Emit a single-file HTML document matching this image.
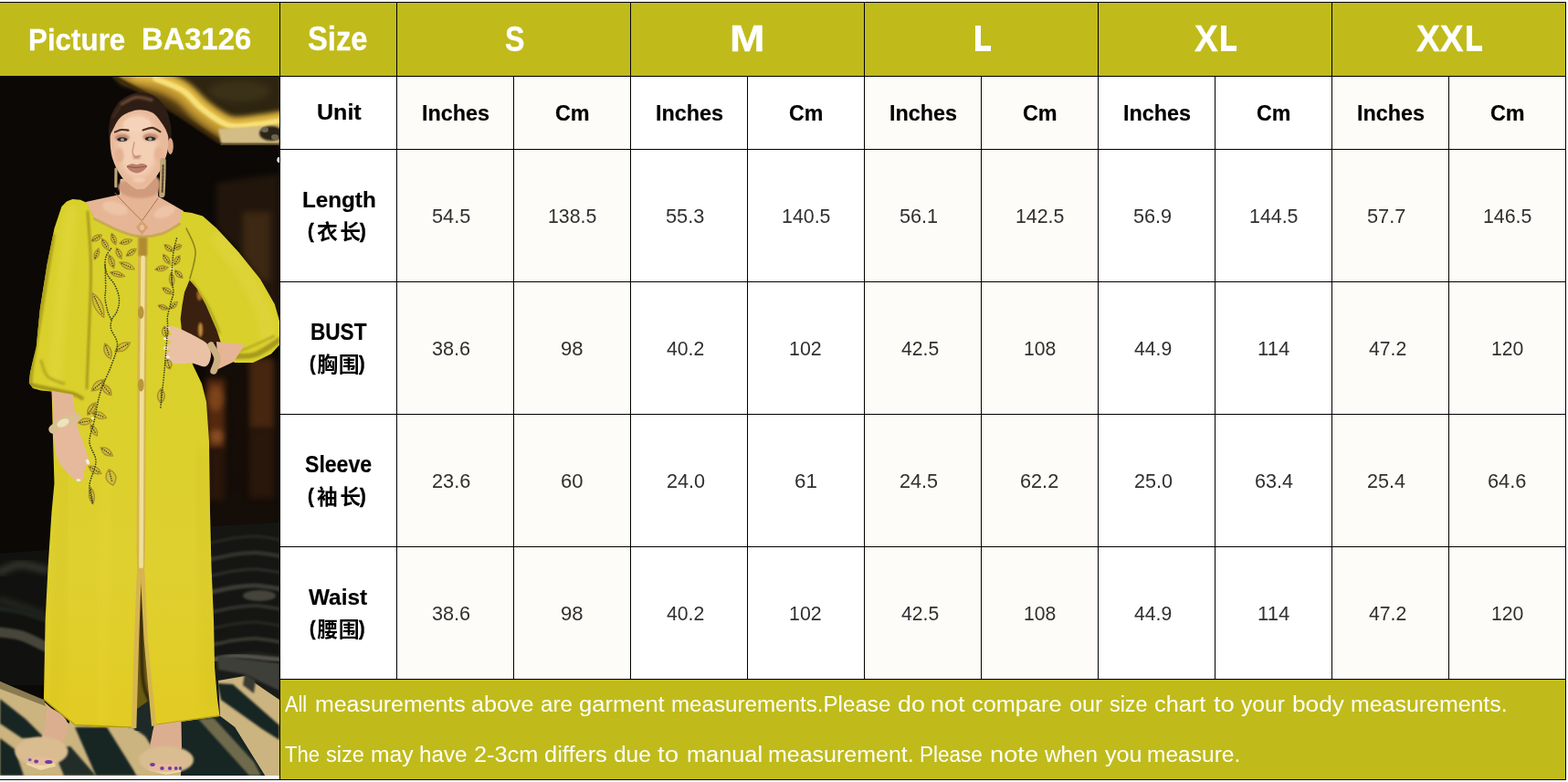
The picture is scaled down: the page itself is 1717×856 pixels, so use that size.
<!DOCTYPE html>
<html><head><meta charset="utf-8"><title>Size chart BA3126</title>
<style>
html,body{margin:0;padding:0;background:#fff}
body{width:1717px;height:856px;position:relative;overflow:hidden;font-family:"Liberation Sans",sans-serif}
.r{position:absolute}
.k{background:#000}
.t{position:absolute;white-space:pre;line-height:1;transform-origin:0 0;display:block}
svg{position:absolute;left:0;top:0}
</style></head><body>
<svg width="306" height="856" viewBox="0 0 306 856" style="position:absolute;left:0;top:0"><defs>
<filter id="b1" color-interpolation-filters="sRGB" x="-50%" y="-50%" width="200%" height="200%"><feGaussianBlur stdDeviation="1.2"/></filter>
<filter id="b2" color-interpolation-filters="sRGB" x="-50%" y="-50%" width="200%" height="200%"><feGaussianBlur stdDeviation="3"/></filter>
<filter id="b3" color-interpolation-filters="sRGB" x="-50%" y="-50%" width="200%" height="200%"><feGaussianBlur stdDeviation="7"/></filter>
<filter id="soft" color-interpolation-filters="sRGB" x="0" y="0" width="100%" height="100%"><feGaussianBlur stdDeviation="0.45"/></filter>
<linearGradient id="dg" gradientUnits="userSpaceOnUse" x1="0" y1="218" x2="0" y2="796"><stop offset="0" stop-color="#d8d02b"/><stop offset=".45" stop-color="#dbd02c"/><stop offset=".7" stop-color="#dfd030"/><stop offset="1" stop-color="#e2cb22"/></linearGradient>
<clipPath id="pc"><rect x="0" y="84" width="306" height="765"/></clipPath>
</defs><g clip-path="url(#pc)"><g filter="url(#soft)"><rect x="0" y="84" width="306" height="765" fill="#0b0806"/><path d="M150.0,84.0L306.0,84.0L306.0,130.0L254.0,134.0L240.0,128.0L219.0,113.0L198.0,93.0Z" fill="#2e2511" /><ellipse cx="262.0" cy="100.0" rx="34.0" ry="12.0" fill="#3b3118" filter="url(#b2)"/><path d="M125.0,84.0L156.0,84.0L198.0,92.0L219.0,112.0L240.0,126.0L254.0,132.0L306.0,126.0L306.0,157.0L240.0,155.0L198.0,127.0L156.0,101.0Z" fill="#4d3611" /><path d="M140.0,80.0C146.0,81.7 166.0,86.3 176.0,90.0C186.0,93.7 192.8,97.0 200.0,102.0C207.2,107.0 212.7,114.7 219.0,120.0C225.3,125.3 232.2,130.5 238.0,134.0C243.8,137.5 246.7,140.2 254.0,141.0C261.3,141.8 273.0,140.0 282.0,139.0C291.0,138.0 303.7,135.7 308.0,135.0" fill="none" stroke="#b88f2e" stroke-width="24" stroke-linecap="round" filter="url(#b2)"/><path d="M150.0,82.0C154.3,82.7 167.7,83.5 176.0,86.0C184.3,88.5 192.8,92.2 200.0,97.0C207.2,101.8 212.7,109.7 219.0,115.0C225.3,120.3 232.2,125.5 238.0,129.0C243.8,132.5 246.7,135.2 254.0,136.0C261.3,136.8 273.0,135.0 282.0,134.0C291.0,133.0 303.7,130.7 308.0,130.0" fill="none" stroke="#e3bd45" stroke-width="13" stroke-linecap="round" filter="url(#b2)"/><path d="M170.0,86.0C175.0,88.2 191.8,93.8 200.0,99.0C208.2,104.2 212.7,111.7 219.0,117.0C225.3,122.3 232.2,127.5 238.0,131.0C243.8,134.5 246.7,137.2 254.0,138.0C261.3,138.8 273.0,137.0 282.0,136.0C291.0,135.0 303.7,132.7 308.0,132.0" fill="none" stroke="#f7e07a" stroke-width="6" stroke-linecap="round" filter="url(#b1)"/><path d="M125.0,84.0L156.0,101.0L198.0,127.0L240.0,155.0" fill="none" stroke="#3d2a0d" stroke-width="4" stroke-linecap="round" filter="url(#b1)"/><path d="M239.0,141.0L306.0,137.0L306.0,157.0L242.0,157.0Z" fill="#d3bd84" filter="url(#b1)"/><path d="M242.0,158.0L306.0,158.0" fill="none" stroke="#6b5a30" stroke-width="1.5" stroke-linecap="round" /><ellipse cx="297.0" cy="146.0" rx="13.0" ry="8.0" fill="#2a2418" filter="url(#b1)"/><ellipse cx="290.0" cy="142.0" rx="4.0" ry="3.0" fill="#6d6550" /><ellipse cx="301.0" cy="150.0" rx="4.0" ry="3.0" fill="#6d6550" /><ellipse cx="305.5" cy="175.0" rx="2.2" ry="3.0" fill="#fff4dc" /><path d="M237.0,200.0L306.0,190.0L306.0,360.0L262.0,275.0L237.0,250.0Z" fill="#22160c" filter="url(#b2)"/><path d="M266.0,232.0L296.0,232.0L296.0,310.0L283.0,303.0L266.0,280.0Z" fill="#3d2813" filter="url(#b2)"/><path d="M205.0,300.0L216.0,314.0L226.0,333.0L238.0,361.0L241.0,374.0L227.0,378.0L214.0,370.0L199.0,362.0L196.0,349.0L198.0,333.0Z" fill="#3a200e" /><ellipse cx="218.5" cy="323.0" rx="3.0" ry="6.0" fill="#a86a2c" filter="url(#b1)"/><ellipse cx="219.5" cy="361.0" rx="2.5" ry="8.0" fill="#c08a3e" filter="url(#b1)"/><path d="M224.0,396.0L306.0,396.0L306.0,580.0L224.0,580.0Z" fill="#150d08" filter="url(#b2)"/><path d="M273.0,392.0L300.0,392.0L300.0,470.0L273.0,470.0Z" fill="#46260f" filter="url(#b2)"/><path d="M273.0,470.0L300.0,470.0L300.0,545.0L273.0,545.0Z" fill="#2a170b" filter="url(#b2)"/><path d="M226.0,415.0L246.0,415.0L246.0,492.0L226.0,492.0Z" fill="#54290f" filter="url(#b2)"/><path d="M228.0,492.0L246.0,492.0L246.0,548.0L228.0,548.0Z" fill="#2a160a" filter="url(#b2)"/><ellipse cx="236.0" cy="436.0" rx="8.0" ry="14.0" fill="#7d4519" filter="url(#b2)"/><ellipse cx="237.0" cy="478.0" rx="7.0" ry="8.0" fill="#8a4f24" filter="url(#b2)"/><ellipse cx="262.0" cy="470.0" rx="6.0" ry="60.0" fill="#170d07" filter="url(#b2)"/><path d="M232.0,576.0L306.0,572.0L306.0,730.0L232.0,730.0Z" fill="#151613" /><path d="M232.0,594.0C236.0,593.2 248.0,590.2 256.0,589.0C264.0,587.8 271.3,586.7 280.0,587.0C288.7,587.3 303.3,590.3 308.0,591.0" fill="none" stroke="#25261f" stroke-width="3.5" stroke-linecap="round" filter="url(#b1)"/><path d="M232.0,612.0C236.0,611.2 248.0,608.2 256.0,607.0C264.0,605.8 271.3,604.7 280.0,605.0C288.7,605.3 303.3,608.3 308.0,609.0" fill="none" stroke="#33332d" stroke-width="4.5" stroke-linecap="round" filter="url(#b1)"/><path d="M232.0,630.0C236.0,629.2 248.0,626.2 256.0,625.0C264.0,623.8 271.3,622.7 280.0,623.0C288.7,623.3 303.3,626.3 308.0,627.0" fill="none" stroke="#2a2b27" stroke-width="3.5" stroke-linecap="round" filter="url(#b1)"/><path d="M232.0,648.0C236.0,647.2 248.0,644.2 256.0,643.0C264.0,641.8 271.3,640.7 280.0,641.0C288.7,641.3 303.3,644.3 308.0,645.0" fill="none" stroke="#3c3b35" stroke-width="5" stroke-linecap="round" filter="url(#b1)"/><path d="M232.0,670.0C236.0,669.2 248.0,666.2 256.0,665.0C264.0,663.8 271.3,662.7 280.0,663.0C288.7,663.3 303.3,666.3 308.0,667.0" fill="none" stroke="#31312c" stroke-width="4" stroke-linecap="round" filter="url(#b1)"/><path d="M232.0,688.0C236.0,687.2 248.0,684.2 256.0,683.0C264.0,681.8 271.3,680.7 280.0,681.0C288.7,681.3 303.3,684.3 308.0,685.0" fill="none" stroke="#26261f" stroke-width="3.5" stroke-linecap="round" filter="url(#b1)"/><path d="M232.0,706.0C236.0,705.2 248.0,702.2 256.0,701.0C264.0,699.8 271.3,698.7 280.0,699.0C288.7,699.3 303.3,702.3 308.0,703.0" fill="none" stroke="#37372f" stroke-width="4" stroke-linecap="round" filter="url(#b1)"/><path d="M232.0,722.0C236.0,721.2 248.0,718.2 256.0,717.0C264.0,715.8 271.3,714.7 280.0,715.0C288.7,715.3 303.3,718.3 308.0,719.0" fill="none" stroke="#222420" stroke-width="3" stroke-linecap="round" filter="url(#b1)"/><ellipse cx="284.0" cy="652.0" rx="18.0" ry="6.0" fill="#45443c" filter="url(#b1)"/><path d="M0.0,606.0L52.0,602.0L50.0,750.0L0.0,750.0Z" fill="#11120f" /><path d="M0.0,626.0C3.7,624.7 13.7,618.3 22.0,618.0C30.3,617.7 45.3,623.0 50.0,624.0" fill="none" stroke="#35342d" stroke-width="8" stroke-linecap="round" filter="url(#b2)"/><path d="M0.0,657.0C4.0,658.2 15.7,661.2 24.0,664.0C32.3,666.8 45.7,672.3 50.0,674.0" fill="none" stroke="#272721" stroke-width="7" stroke-linecap="round" filter="url(#b2)"/><path d="M0.0,692.0C4.0,692.7 15.7,693.3 24.0,696.0C32.3,698.7 45.7,706.0 50.0,708.0" fill="none" stroke="#48463a" stroke-width="11" stroke-linecap="round" filter="url(#b1)"/><path d="M0.0,666.0C4.0,666.7 15.7,668.0 24.0,670.0C32.3,672.0 45.7,676.7 50.0,678.0" fill="none" stroke="#1d221d" stroke-width="6" stroke-linecap="round" filter="url(#b1)"/><path d="M0.0,746.0L48.0,768.0L80.0,796.0L98.0,817.0L112.0,849.0L0.0,849.0Z" fill="#cbb47f" /><path d="M0.0,746.0L48.0,766.0L50.0,773.0L0.0,754.0Z" fill="#8a7a50" /><path d="M0.0,765.0L28.0,787.0L49.0,808.0L24.0,808.0L0.0,792.0Z" fill="#172523" filter="url(#b1)"/><path d="M0.0,808.0L16.0,820.0L26.0,849.0L0.0,849.0Z" fill="#172523" filter="url(#b1)"/><path d="M78.0,770.0L200.0,770.0L200.0,849.0L70.0,849.0Z" fill="#cbb47f" /><path d="M140.0,765.0L172.0,765.0L172.0,800.0L140.0,800.0Z" fill="#1e2a28" /><path d="M82.0,796.0L117.0,796.0L150.0,849.0L105.0,849.0Z" fill="#172523" filter="url(#b1)"/><path d="M58.0,820.0L77.0,817.0L105.0,849.0L70.0,849.0Z" fill="#222c29" filter="url(#b1)"/><path d="M145.0,796.0L168.0,795.0L168.0,820.0L159.0,806.0Z" fill="#1e2a28" filter="url(#b1)"/><path d="M128.0,796.0L146.0,796.0L158.0,820.0L150.0,849.0L140.0,822.0Z" fill="#cbb47f" filter="url(#b1)"/><path d="M234.0,719.0L306.0,716.0L306.0,849.0L198.0,849.0L198.0,787.0L241.0,784.0Z" fill="#1a1c19" /><path d="M234.0,722.0C238.3,721.3 248.0,718.0 260.0,718.0C272.0,718.0 298.3,721.3 306.0,722.0" fill="none" stroke="#55534a" stroke-width="5" stroke-linecap="round" filter="url(#b1)"/><path d="M238.0,718.0L306.0,726.0L306.0,756.0L268.0,738.0L239.0,733.0Z" fill="#3e3f39" filter="url(#b1)"/><path d="M239.0,745.0L268.0,740.0L306.0,766.0L306.0,849.0L290.0,849.0L257.0,796.0L241.0,784.0Z" fill="#cbb47f" /><path d="M238.0,748.0L255.0,749.0L306.0,794.0L306.0,810.0L287.0,798.0L242.0,766.0Z" fill="#172523" filter="url(#b1)"/><path d="M200.0,787.0L241.0,784.0L257.0,796.0L290.0,849.0L200.0,849.0Z" fill="#172523" /><path d="M217.0,787.0L234.0,786.0L278.0,834.0L286.0,849.0L273.0,849.0Z" fill="#6f6a4c" filter="url(#b1)"/><path d="M268.0,737.0L280.0,745.0L278.0,759.0L266.0,750.0Z" fill="#3a3a32" filter="url(#b1)"/><path d="M119.0,146.0C118.8,142.7 119.3,137.8 120.0,134.0C120.7,130.2 120.8,127.2 123.0,123.0C125.2,118.8 128.3,112.6 133.0,109.0C137.7,105.4 145.2,101.9 151.0,101.2C156.8,100.5 163.1,101.9 168.0,104.6C172.9,107.3 177.6,112.3 180.7,117.2C183.8,122.1 185.1,128.9 186.3,134.0C187.5,139.1 187.8,143.3 187.8,148.0C187.8,152.7 187.5,162.3 186.5,162.0C185.5,161.7 183.4,150.4 182.0,146.0C180.6,141.6 180.5,139.4 177.9,135.7C175.3,132.0 171.4,126.5 166.7,124.0C162.0,121.5 155.5,120.3 149.9,121.0C144.3,121.7 137.2,124.7 133.0,128.0C128.8,131.3 126.5,136.7 124.5,141.0C122.5,145.3 121.9,153.2 121.0,154.0C120.1,154.8 119.2,149.3 119.0,146.0Z" fill="#2e1d14" /><path d="M133.0,114.0C135.7,112.8 143.5,107.2 149.0,106.5C154.5,105.8 163.2,109.0 166.0,109.5" fill="none" stroke="#6b4a34" stroke-width="3.4" stroke-linecap="round" filter="url(#b1)"/><path d="M124.0,128.0C125.2,126.2 129.8,118.8 131.0,117.0" fill="none" stroke="#4a3022" stroke-width="2.2" stroke-linecap="round" filter="url(#b1)"/><path d="M131.6,196.0L171.0,190.0L173.3,215.0L201.0,231.0L199.0,246.0L177.6,256.5L153.0,259.5L130.8,253.5L104.0,241.0L94.0,221.0L131.0,213.0Z" fill="#e6b595" /><path d="M132.5,200.0C138.7,197.0 164.3,192.2 171.0,194.0C177.7,195.8 175.3,207.2 172.5,211.0C169.7,214.8 160.4,216.8 154.0,217.0C147.6,217.2 137.6,214.8 134.0,212.0C130.4,209.2 126.3,203.0 132.5,200.0Z" fill="#cf9b7c" filter="url(#b1)"/><ellipse cx="126.0" cy="228.0" rx="14.0" ry="7.0" fill="#eec4a8" transform="rotate(15 126.0 228.0)" filter="url(#b1)"/><ellipse cx="180.0" cy="232.0" rx="12.0" ry="6.0" fill="#eec4a8" transform="rotate(-20 180.0 232.0)" filter="url(#b1)"/><ellipse cx="186.6" cy="160.0" rx="3.2" ry="9.0" fill="#dba587" /><path d="M120.6,152.0C120.7,146.6 121.8,145.4 123.9,141.3C126.0,137.2 128.7,131.0 133.0,127.5C137.3,124.0 144.3,121.1 149.9,120.4C155.5,119.7 162.0,120.7 166.7,123.2C171.4,125.8 175.1,131.8 177.9,135.7C180.7,139.6 182.4,143.7 183.5,146.9C184.6,150.1 184.4,151.5 184.3,155.0C184.2,158.5 184.4,162.6 182.8,168.0C181.2,173.4 178.6,181.5 175.0,187.6C171.4,193.7 164.5,201.2 161.0,204.4C157.5,207.6 156.3,206.8 154.0,207.0C151.7,207.2 150.5,208.1 147.0,205.8C143.5,203.5 137.0,198.6 133.0,193.2C129.0,187.8 125.3,180.4 123.2,173.5C121.1,166.6 120.5,157.4 120.6,152.0Z" fill="#e9ba9c" /><ellipse cx="151.0" cy="160.0" rx="22.0" ry="34.0" fill="#f3cfb4" filter="url(#b2)"/><ellipse cx="150.0" cy="136.0" rx="15.0" ry="8.0" fill="#f5d3ba" filter="url(#b1)"/><ellipse cx="133.8" cy="150.6" rx="8.0" ry="4.2" fill="#c08a70" filter="url(#b1)"/><ellipse cx="164.8" cy="150.0" rx="8.4" ry="4.2" fill="#c08a70" filter="url(#b1)"/><path d="M126.0,144.6C127.2,144.2 130.6,142.3 133.0,142.0C135.4,141.7 139.2,142.5 140.5,142.6" fill="none" stroke="#4a2f22" stroke-width="2.1" stroke-linecap="round" /><path d="M156.5,142.4C158.2,142.0 163.5,139.6 166.7,139.9C169.9,140.2 174.0,143.5 175.5,144.2" fill="none" stroke="#4a2f22" stroke-width="2.1" stroke-linecap="round" /><ellipse cx="133.8" cy="152.6" rx="5.6" ry="2.4" fill="#33231c" /><ellipse cx="134.0" cy="152.9" rx="2.1" ry="1.7" fill="#93a6ad" /><ellipse cx="164.6" cy="151.9" rx="5.8" ry="2.4" fill="#33231c" /><ellipse cx="164.4" cy="152.2" rx="2.1" ry="1.7" fill="#93a6ad" /><path d="M147.0,156.0C146.7,157.8 145.0,164.4 145.2,167.0C145.4,169.6 146.8,171.0 148.2,171.6C149.6,172.2 152.7,170.6 153.6,170.4" fill="none" stroke="#d09b7d" stroke-width="1.5" stroke-linecap="round" /><ellipse cx="149.6" cy="172.2" rx="4.2" ry="1.3" fill="#b98466" filter="url(#b1)"/><path d="M138.7,182.0C138.9,180.6 143.1,179.5 145.0,179.2C146.9,178.9 148.2,180.2 149.9,180.2C151.6,180.2 153.1,178.8 155.0,179.0C156.9,179.2 161.0,180.2 161.2,181.6C161.4,183.0 157.9,186.3 156.0,187.6C154.1,188.9 151.7,189.4 149.6,189.4C147.5,189.4 145.4,188.8 143.6,187.6C141.8,186.4 138.5,183.4 138.7,182.0Z" fill="#bb7f69" /><path d="M139.5,182.4C141.2,182.6 146.4,183.5 149.9,183.4C153.4,183.3 158.7,182.2 160.4,182.0" fill="none" stroke="#8f5544" stroke-width="1" stroke-linecap="round" /><ellipse cx="130.5" cy="170.0" rx="5.0" ry="8.0" fill="#e6b092" filter="url(#b1)"/><ellipse cx="174.0" cy="169.0" rx="5.0" ry="8.5" fill="#e8b496" filter="url(#b1)"/><ellipse cx="152.0" cy="197.0" rx="7.0" ry="3.0" fill="#f1cbb0" filter="url(#b1)"/><path d="M178.5,176.0C178.4,179.2 178.4,188.8 178.2,195.0C178.0,201.2 177.5,210.0 177.4,213.0" fill="none" stroke="#bfa679" stroke-width="6.4" stroke-linecap="round" /><path d="M178.6,181.0C178.5,183.8 178.4,193.0 178.2,198.0C178.0,203.0 177.7,208.8 177.6,211.0" fill="none" stroke="#54422a" stroke-width="2" stroke-linecap="round" stroke-dasharray="2.2 1.6"/><path d="M127.0,185.0L126.8,204.0" fill="none" stroke="#bfa679" stroke-width="3.2" stroke-linecap="round" /><path d="M126.0,211.3L140.0,226.5L155.3,241.7L164.7,228.8L173.0,217.0" fill="none" stroke="#a8754a" stroke-width="1" stroke-linecap="round" /><path d="M155.3,241.0L162.3,248.7L155.3,257.3L149.0,248.7Z" fill="#d8a070" /><ellipse cx="155.5" cy="249.0" rx="2.4" ry="3.0" fill="#e9c29c" /><path d="M67.5,226.0L73.0,220.5L79.4,218.0L88.0,218.8L95.3,222.0L98.5,229.0L103.5,239.5L130.8,252.7L153.0,258.8L177.6,255.7L196.7,245.2L199.0,231.6L210.0,233.0L222.0,236.5L237.3,250.0L261.0,275.8L285.0,305.6L300.8,333.0L306.5,353.0L306.5,377.0L296.9,387.5L277.0,397.0L257.0,397.0L250.0,392.0L243.0,379.0L237.3,361.0L225.4,333.4L215.5,315.5L207.6,306.5L202.0,320.0L199.6,333.4L197.6,349.0L199.0,362.0L205.0,380.0L211.4,400.0L221.0,420.0L226.0,440.0L229.0,484.0L230.0,560.0L231.5,620.0L234.0,679.0L235.0,730.0L238.0,765.0L240.6,784.0L205.0,789.0L168.7,794.3L163.5,740.0L158.0,660.0L154.0,627.5L151.5,660.0L148.5,740.0L145.3,796.6L110.0,796.0L81.8,794.0L56.0,773.0L47.9,766.0L48.6,730.0L49.6,679.0L52.6,620.0L56.6,560.0L59.5,529.0L58.0,480.0L56.6,428.6L45.0,427.5L36.0,425.0L31.8,419.0L33.0,408.0L36.0,395.0L39.7,380.0L43.7,339.0L51.6,289.0L59.5,250.0Z" fill="url(#dg)"/><clipPath id="dc"><path d="M67.5,226.0L73.0,220.5L79.4,218.0L88.0,218.8L95.3,222.0L98.5,229.0L103.5,239.5L130.8,252.7L153.0,258.8L177.6,255.7L196.7,245.2L199.0,231.6L210.0,233.0L222.0,236.5L237.3,250.0L261.0,275.8L285.0,305.6L300.8,333.0L306.5,353.0L306.5,377.0L296.9,387.5L277.0,397.0L257.0,397.0L250.0,392.0L243.0,379.0L237.3,361.0L225.4,333.4L215.5,315.5L207.6,306.5L202.0,320.0L199.6,333.4L197.6,349.0L199.0,362.0L205.0,380.0L211.4,400.0L221.0,420.0L226.0,440.0L229.0,484.0L230.0,560.0L231.5,620.0L234.0,679.0L235.0,730.0L238.0,765.0L240.6,784.0L205.0,789.0L168.7,794.3L163.5,740.0L158.0,660.0L154.0,627.5L151.5,660.0L148.5,740.0L145.3,796.6L110.0,796.0L81.8,794.0L56.0,773.0L47.9,766.0L48.6,730.0L49.6,679.0L52.6,620.0L56.6,560.0L59.5,529.0L58.0,480.0L56.6,428.6L45.0,427.5L36.0,425.0L31.8,419.0L33.0,408.0L36.0,395.0L39.7,380.0L43.7,339.0L51.6,289.0L59.5,250.0Z"/></clipPath><g clip-path="url(#dc)"><path d="M78.0,232.0C76.7,243.3 72.3,278.7 70.0,300.0C67.7,321.3 65.7,340.8 64.0,360.0C62.3,379.2 60.7,405.8 60.0,415.0" fill="none" stroke="#e0d63c" stroke-width="15" stroke-linecap="round" opacity=".7" filter="url(#b2)"/><path d="M58.0,258.0C55.7,272.5 47.8,321.3 44.0,345.0C40.2,368.7 36.8,387.5 35.0,400.0C33.2,412.5 33.3,416.7 33.0,420.0" fill="none" stroke="#b0a21d" stroke-width="5" stroke-linecap="round" filter="url(#b1)"/><path d="M96.0,232.0C96.6,241.7 99.2,270.3 99.5,290.0C99.8,309.7 98.8,327.5 98.0,350.0C97.2,372.5 95.5,412.5 95.0,425.0" fill="none" stroke="#a3951b" stroke-width="2.6" stroke-linecap="round" filter="url(#b1)"/><path d="M33.0,421.0C36.8,421.8 48.2,424.3 56.0,426.0C63.8,427.7 74.3,429.3 80.0,431.0C85.7,432.7 88.3,435.2 90.0,436.0" fill="none" stroke="#a3951b" stroke-width="4" stroke-linecap="round" filter="url(#b1)"/><path d="M45.0,395.0C46.2,397.8 47.8,407.8 52.0,412.0C56.2,416.2 67.0,418.7 70.0,420.0" fill="none" stroke="#b7aa20" stroke-width="3" stroke-linecap="round" filter="url(#b1)"/><path d="M240.0,262.0C244.7,268.3 260.0,287.0 268.0,300.0C276.0,313.0 283.7,328.3 288.0,340.0C292.3,351.7 293.0,365.0 294.0,370.0" fill="none" stroke="#dfd53f" stroke-width="17" stroke-linecap="round" opacity=".7" filter="url(#b2)"/><path d="M204.0,250.0C205.7,254.2 213.3,265.8 214.0,275.0C214.7,284.2 209.0,300.0 208.0,305.0" fill="none" stroke="#8f851a" stroke-width="1.6" stroke-linecap="round" /><path d="M255.0,390.0C259.2,389.7 271.5,391.0 280.0,388.0C288.5,385.0 301.7,374.7 306.0,372.0" fill="none" stroke="#a59a1e" stroke-width="6" stroke-linecap="round" filter="url(#b1)"/><path d="M247.0,378.0C249.5,379.0 253.2,385.7 262.0,384.0C270.8,382.3 293.7,370.7 300.0,368.0" fill="none" stroke="#b7ab22" stroke-width="2.5" stroke-linecap="round" filter="url(#b1)"/><path d="M210.0,308.0C213.0,312.7 223.0,326.7 228.0,336.0C233.0,345.3 238.0,359.3 240.0,364.0" fill="none" stroke="#b3a620" stroke-width="3" stroke-linecap="round" filter="url(#b1)"/><path d="M70.0,500.0C69.0,530.0 65.7,635.0 64.0,680.0C62.3,725.0 60.7,755.0 60.0,770.0" fill="none" stroke="#cfbd22" stroke-width="8" stroke-linecap="round" opacity=".45" filter="url(#b3)"/><path d="M220.0,500.0C221.0,530.0 224.0,634.2 226.0,680.0C228.0,725.8 231.0,759.2 232.0,775.0" fill="none" stroke="#cdbb22" stroke-width="7" stroke-linecap="round" opacity=".45" filter="url(#b3)"/><path d="M118.0,520.0C117.0,550.0 113.3,655.0 112.0,700.0C110.7,745.0 110.3,775.0 110.0,790.0" fill="none" stroke="#ead63a" stroke-width="14" stroke-linecap="round" opacity=".35" filter="url(#b3)"/><path d="M47.9,766.0L56.0,773.0L81.8,794.0L145.3,796.6" fill="none" stroke="#b09c16" stroke-width="2.4" stroke-linecap="round" /><path d="M168.7,794.3L240.6,784.0" fill="none" stroke="#b09c16" stroke-width="2.4" stroke-linecap="round" /></g><path d="M103.5,239.5C108.0,241.7 122.6,249.5 130.8,252.7C139.1,255.9 145.2,258.3 153.0,258.8C160.8,259.3 170.3,258.0 177.6,255.7C184.9,253.4 193.5,246.9 196.7,245.2" fill="none" stroke="#c8ab52" stroke-width="3" stroke-linecap="round" /><path d="M154.0,628.0L151.5,660.0L148.5,740.0L145.3,796.6L150.0,778.0L167.0,765.0L168.7,794.3L163.5,740.0L158.0,660.0Z" fill="#6b5a12" /><path d="M154.5,640.0C154.8,656.3 154.6,717.0 156.0,738.0C157.4,759.0 161.8,761.3 163.0,766.0" fill="none" stroke="#33270a" stroke-width="3.6" stroke-linecap="round" filter="url(#b1)"/><path d="M146.0,780.0L150.0,776.0L167.0,764.0L168.0,778.0Z" fill="#1f2a26" /><path d="M151.2,260.0L161.4,260.0L161.2,300.0L160.0,440.0L159.0,600.0L158.2,627.0L154.2,634.0L150.2,627.0L149.6,600.0L150.2,440.0L151.0,300.0Z" fill="#d6b550" /><path d="M151.6,260.0L161.2,260.0L161.0,280.0L151.5,280.0Z" fill="#b08a30" filter="url(#b1)"/><path d="M156.6,282.0L155.4,420.0L154.5,620.0" fill="none" stroke="#f0df98" stroke-width="4.6" stroke-linecap="round" /><path d="M149.8,627.0L154.8,627.0L152.2,700.0L149.4,797.0L143.8,797.0L147.0,700.0Z" fill="#d6b550" /><path d="M153.6,627.0L158.6,627.0L161.6,700.0L171.2,794.0L166.0,795.0L157.6,700.0Z" fill="#d6b550" /><ellipse cx="154.3" cy="342.0" rx="3.3" ry="7.0" fill="#b8973a" /><ellipse cx="154.3" cy="421.5" rx="3.3" ry="7.0" fill="#b8973a" /><path d="M237.0,374.0L268.0,377.0L256.0,396.0L239.0,404.0Z" fill="#e6b595" /><path d="M181.8,358.0C182.1,356.6 187.0,357.0 190.0,357.5C193.0,358.0 195.3,359.1 199.6,361.0C203.8,362.9 210.9,366.3 215.5,369.0C220.1,371.7 224.8,373.7 227.4,377.0C230.0,380.3 231.3,385.0 231.0,389.0C230.7,393.0 229.0,399.6 225.4,401.0C221.8,402.4 215.4,398.0 209.5,397.5C203.6,397.0 194.3,398.9 189.7,398.0C185.1,397.1 183.7,393.8 182.0,392.0C180.3,390.2 179.1,388.3 179.8,387.0C180.5,385.7 185.9,385.3 186.0,384.0C186.1,382.7 180.3,380.5 180.5,379.0C180.7,377.5 187.1,376.7 187.0,375.0C186.9,373.3 179.8,370.5 180.0,369.0C180.2,367.5 187.7,367.8 188.0,366.0C188.3,364.2 181.5,359.4 181.8,358.0Z" fill="#eac1a4" /><path d="M231.0,378.0C232.2,380.3 237.5,387.3 238.0,392.0C238.5,396.7 234.7,403.7 234.0,406.0" fill="none" stroke="#cdb083" stroke-width="7.5" stroke-linecap="round" /><ellipse cx="182.5" cy="359.5" rx="2.6" ry="1.7" fill="#f3ede0" /><ellipse cx="181.5" cy="370.5" rx="2.6" ry="1.7" fill="#f3ede0" /><ellipse cx="181.5" cy="381.0" rx="2.6" ry="1.7" fill="#f3ede0" /><ellipse cx="183.5" cy="391.0" rx="2.6" ry="1.7" fill="#f3ede0" /><path d="M56.6,428.0L80.0,432.0L82.0,450.0L83.4,458.0L59.5,466.0L58.0,445.0Z" fill="#e4b698" /><path d="M59.5,468.0C61.0,462.5 66.1,463.5 70.0,462.0C73.9,460.5 80.3,457.7 83.0,459.0C85.7,460.3 84.3,464.8 86.0,470.0C87.7,475.2 91.1,484.0 93.0,490.0C94.9,496.0 97.3,502.3 97.3,506.0C97.3,509.7 94.1,508.8 93.0,512.0C91.9,515.2 91.8,522.5 90.5,525.0C89.2,527.5 87.4,527.6 85.0,526.8C82.6,526.0 79.2,523.1 76.0,520.0C72.8,516.9 68.5,512.2 66.0,508.0C63.5,503.8 62.1,501.7 61.0,495.0C59.9,488.3 58.0,473.5 59.5,468.0Z" fill="#e6b99c" /><path d="M58.0,470.0C60.0,468.5 65.7,463.2 70.0,461.0C74.3,458.8 81.7,457.7 84.0,457.0" fill="none" stroke="#d9c092" stroke-width="9.5" stroke-linecap="round" /><ellipse cx="69.0" cy="463.0" rx="7.0" ry="4.0" fill="#efe2bf" transform="rotate(-25 69.0 463.0)" /><ellipse cx="96.0" cy="505.5" rx="1.8" ry="3.0" fill="#f3ede0" transform="rotate(-20 96.0 505.5)" /><ellipse cx="86.0" cy="525.5" rx="2.5" ry="1.6" fill="#e9efe0" /><g transform="translate(105.8,260.5) rotate(-30)"><path d="M-6.4,0Q0,-5.5 6.4,0Q0,5.5 -6.4,0Z" fill="#cbb23c" fill-opacity=".55" stroke="#ad8d2e" stroke-width="1.4"/><path d="M-4.5,0L4.5,0" stroke="#33421a" stroke-width="1.5" stroke-linecap="round" stroke-dasharray="0.1 2.4"/></g><g transform="translate(115.1,267.5) rotate(60)"><path d="M-7.0,0Q0,-5.5 7.0,0Q0,5.5 -7.0,0Z" fill="#cbb23c" fill-opacity=".55" stroke="#ad8d2e" stroke-width="1.4"/><path d="M-4.9,0L4.9,0" stroke="#33421a" stroke-width="1.5" stroke-linecap="round" stroke-dasharray="0.1 2.4"/></g><g transform="translate(124.5,261.7) rotate(70)"><path d="M-6.4,0Q0,-5.5 6.4,0Q0,5.5 -6.4,0Z" fill="#cbb23c" fill-opacity=".55" stroke="#ad8d2e" stroke-width="1.4"/><path d="M-4.5,0L4.5,0" stroke="#33421a" stroke-width="1.5" stroke-linecap="round" stroke-dasharray="0.1 2.4"/></g><g transform="translate(137.9,264.6) rotate(-15)"><path d="M-7.0,0Q0,-5.5 7.0,0Q0,5.5 -7.0,0Z" fill="#cbb23c" fill-opacity=".55" stroke="#ad8d2e" stroke-width="1.4"/><path d="M-4.9,0L4.9,0" stroke="#33421a" stroke-width="1.5" stroke-linecap="round" stroke-dasharray="0.1 2.4"/></g><g transform="translate(105.8,278.0) rotate(-70)"><path d="M-6.4,0Q0,-4.9 6.4,0Q0,4.9 -6.4,0Z" fill="#cbb23c" fill-opacity=".55" stroke="#ad8d2e" stroke-width="1.4"/><path d="M-4.5,0L4.5,0" stroke="#33421a" stroke-width="1.5" stroke-linecap="round" stroke-dasharray="0.1 2.4"/></g><g transform="translate(130.3,277.4) rotate(65)"><path d="M-6.4,0Q0,-5.5 6.4,0Q0,5.5 -6.4,0Z" fill="#cbb23c" fill-opacity=".55" stroke="#ad8d2e" stroke-width="1.4"/><path d="M-4.5,0L4.5,0" stroke="#33421a" stroke-width="1.5" stroke-linecap="round" stroke-dasharray="0.1 2.4"/></g><g transform="translate(143.7,276.3) rotate(-35)"><path d="M-6.4,0Q0,-5.5 6.4,0Q0,5.5 -6.4,0Z" fill="#cbb23c" fill-opacity=".55" stroke="#ad8d2e" stroke-width="1.4"/><path d="M-4.5,0L4.5,0" stroke="#33421a" stroke-width="1.5" stroke-linecap="round" stroke-dasharray="0.1 2.4"/></g><g transform="translate(122.1,286.2) rotate(70)"><path d="M-7.6,0Q0,-6.1 7.6,0Q0,6.1 -7.6,0Z" fill="#cbb23c" fill-opacity=".55" stroke="#ad8d2e" stroke-width="1.4"/><path d="M-5.3,0L5.3,0" stroke="#33421a" stroke-width="1.5" stroke-linecap="round" stroke-dasharray="0.1 2.4"/></g><g transform="translate(139.1,290.9) rotate(25)"><path d="M-8.8,0Q0,-6.1 8.8,0Q0,6.1 -8.8,0Z" fill="#cbb23c" fill-opacity=".55" stroke="#ad8d2e" stroke-width="1.4"/><path d="M-6.1,0L6.1,0" stroke="#33421a" stroke-width="1.5" stroke-linecap="round" stroke-dasharray="0.1 2.4"/></g><g transform="translate(128.5,300.2) rotate(15)"><path d="M-8.2,0Q0,-5.5 8.2,0Q0,5.5 -8.2,0Z" fill="#cbb23c" fill-opacity=".55" stroke="#ad8d2e" stroke-width="1.4"/><path d="M-5.7,0L5.7,0" stroke="#33421a" stroke-width="1.5" stroke-linecap="round" stroke-dasharray="0.1 2.4"/></g><g transform="translate(107.5,334.1) rotate(65)"><path d="M-14.6,0Q0,-8.6 14.6,0Q0,8.6 -14.6,0Z" fill="#cbb23c" fill-opacity=".55" stroke="#ad8d2e" stroke-width="1.4"/><path d="M-10.2,0L10.2,0" stroke="#33421a" stroke-width="1.5" stroke-linecap="round" stroke-dasharray="0.1 2.4"/></g><g transform="translate(184.6,271.6) rotate(40)"><path d="M-5.8,0Q0,-5.5 5.8,0Q0,5.5 -5.8,0Z" fill="#cbb23c" fill-opacity=".55" stroke="#ad8d2e" stroke-width="1.4"/><path d="M-4.1,0L4.1,0" stroke="#33421a" stroke-width="1.5" stroke-linecap="round" stroke-dasharray="0.1 2.4"/></g><g transform="translate(194.5,270.4) rotate(-20)"><path d="M-4.7,0Q0,-5.5 4.7,0Q0,5.5 -4.7,0Z" fill="#cbb23c" fill-opacity=".55" stroke="#ad8d2e" stroke-width="1.4"/><path d="M-3.3,0L3.3,0" stroke="#33421a" stroke-width="1.5" stroke-linecap="round" stroke-dasharray="0.1 2.4"/></g><g transform="translate(182.3,283.9) rotate(55)"><path d="M-6.4,0Q0,-5.5 6.4,0Q0,5.5 -6.4,0Z" fill="#cbb23c" fill-opacity=".55" stroke="#ad8d2e" stroke-width="1.4"/><path d="M-4.5,0L4.5,0" stroke="#33421a" stroke-width="1.5" stroke-linecap="round" stroke-dasharray="0.1 2.4"/></g><g transform="translate(193.9,285.0) rotate(-60)"><path d="M-5.8,0Q0,-5.5 5.8,0Q0,5.5 -5.8,0Z" fill="#cbb23c" fill-opacity=".55" stroke="#ad8d2e" stroke-width="1.4"/><path d="M-4.1,0L4.1,0" stroke="#33421a" stroke-width="1.5" stroke-linecap="round" stroke-dasharray="0.1 2.4"/></g><g transform="translate(177.0,293.8) rotate(-10)"><path d="M-7.0,0Q0,-5.5 7.0,0Q0,5.5 -7.0,0Z" fill="#cbb23c" fill-opacity=".55" stroke="#ad8d2e" stroke-width="1.4"/><path d="M-4.9,0L4.9,0" stroke="#33421a" stroke-width="1.5" stroke-linecap="round" stroke-dasharray="0.1 2.4"/></g><g transform="translate(195.7,300.2) rotate(45)"><path d="M-5.8,0Q0,-5.5 5.8,0Q0,5.5 -5.8,0Z" fill="#cbb23c" fill-opacity=".55" stroke="#ad8d2e" stroke-width="1.4"/><path d="M-4.1,0L4.1,0" stroke="#33421a" stroke-width="1.5" stroke-linecap="round" stroke-dasharray="0.1 2.4"/></g><g transform="translate(188.1,306.1) rotate(85)"><path d="M-7.6,0Q0,-5.5 7.6,0Q0,5.5 -7.6,0Z" fill="#cbb23c" fill-opacity=".55" stroke="#ad8d2e" stroke-width="1.4"/><path d="M-5.3,0L5.3,0" stroke="#33421a" stroke-width="1.5" stroke-linecap="round" stroke-dasharray="0.1 2.4"/></g><g transform="translate(183.4,318.3) rotate(30)"><path d="M-6.4,0Q0,-5.5 6.4,0Q0,5.5 -6.4,0Z" fill="#cbb23c" fill-opacity=".55" stroke="#ad8d2e" stroke-width="1.4"/><path d="M-4.5,0L4.5,0" stroke="#33421a" stroke-width="1.5" stroke-linecap="round" stroke-dasharray="0.1 2.4"/></g><g transform="translate(178.8,336.4) rotate(20)"><path d="M-5.8,0Q0,-4.9 5.8,0Q0,4.9 -5.8,0Z" fill="#cbb23c" fill-opacity=".55" stroke="#ad8d2e" stroke-width="1.4"/><path d="M-4.1,0L4.1,0" stroke="#33421a" stroke-width="1.5" stroke-linecap="round" stroke-dasharray="0.1 2.4"/></g><g transform="translate(190.4,334.1) rotate(-45)"><path d="M-5.3,0Q0,-4.9 5.3,0Q0,4.9 -5.3,0Z" fill="#cbb23c" fill-opacity=".55" stroke="#ad8d2e" stroke-width="1.4"/><path d="M-3.7,0L3.7,0" stroke="#33421a" stroke-width="1.5" stroke-linecap="round" stroke-dasharray="0.1 2.4"/></g><ellipse cx="188.1" cy="293.8" rx="1.6" ry="1.6" fill="#f4f0d8" /><g transform="translate(134.3,379.8) rotate(-30)"><path d="M-9.3,0Q0,-7.8 9.3,0Q0,7.8 -9.3,0Z" fill="#cbb23c" fill-opacity=".55" stroke="#ad8d2e" stroke-width="1.4"/><path d="M-6.5,0L6.5,0" stroke="#33421a" stroke-width="1.5" stroke-linecap="round" stroke-dasharray="0.1 2.4"/></g><g transform="translate(118.0,384.4) rotate(70)"><path d="M-8.9,0Q0,-7.4 8.9,0Q0,7.4 -8.9,0Z" fill="#cbb23c" fill-opacity=".55" stroke="#ad8d2e" stroke-width="1.4"/><path d="M-6.2,0L6.2,0" stroke="#33421a" stroke-width="1.5" stroke-linecap="round" stroke-dasharray="0.1 2.4"/></g><g transform="translate(107.5,421.8) rotate(-40)"><path d="M-9.3,0Q0,-7.8 9.3,0Q0,7.8 -9.3,0Z" fill="#cbb23c" fill-opacity=".55" stroke="#ad8d2e" stroke-width="1.4"/><path d="M-6.5,0L6.5,0" stroke="#33421a" stroke-width="1.5" stroke-linecap="round" stroke-dasharray="0.1 2.4"/></g><g transform="translate(116.8,426.5) rotate(50)"><path d="M-7.9,0Q0,-6.9 7.9,0Q0,6.9 -7.9,0Z" fill="#cbb23c" fill-opacity=".55" stroke="#ad8d2e" stroke-width="1.4"/><path d="M-5.6,0L5.6,0" stroke="#33421a" stroke-width="1.5" stroke-linecap="round" stroke-dasharray="0.1 2.4"/></g><g transform="translate(100.4,447.5) rotate(-55)"><path d="M-7.9,0Q0,-6.9 7.9,0Q0,6.9 -7.9,0Z" fill="#cbb23c" fill-opacity=".55" stroke="#ad8d2e" stroke-width="1.4"/><path d="M-5.6,0L5.6,0" stroke="#33421a" stroke-width="1.5" stroke-linecap="round" stroke-dasharray="0.1 2.4"/></g><g transform="translate(108.6,454.5) rotate(20)"><path d="M-8.4,0Q0,-6.9 8.4,0Q0,6.9 -8.4,0Z" fill="#cbb23c" fill-opacity=".55" stroke="#ad8d2e" stroke-width="1.4"/><path d="M-5.9,0L5.9,0" stroke="#33421a" stroke-width="1.5" stroke-linecap="round" stroke-dasharray="0.1 2.4"/></g><g transform="translate(93.4,461.5) rotate(-10)"><path d="M-7.9,0Q0,-6.9 7.9,0Q0,6.9 -7.9,0Z" fill="#cbb23c" fill-opacity=".55" stroke="#ad8d2e" stroke-width="1.4"/><path d="M-5.6,0L5.6,0" stroke="#33421a" stroke-width="1.5" stroke-linecap="round" stroke-dasharray="0.1 2.4"/></g><g transform="translate(102.8,470.9) rotate(60)"><path d="M-7.0,0Q0,-5.9 7.0,0Q0,5.9 -7.0,0Z" fill="#cbb23c" fill-opacity=".55" stroke="#ad8d2e" stroke-width="1.4"/><path d="M-4.9,0L4.9,0" stroke="#33421a" stroke-width="1.5" stroke-linecap="round" stroke-dasharray="0.1 2.4"/></g><g transform="translate(181.0,363.4) rotate(80)"><path d="M-6.1,0Q0,-6.9 6.1,0Q0,6.9 -6.1,0Z" fill="#cbb23c" fill-opacity=".55" stroke="#ad8d2e" stroke-width="1.4"/><path d="M-4.3,0L4.3,0" stroke="#33421a" stroke-width="1.5" stroke-linecap="round" stroke-dasharray="0.1 2.4"/></g><g transform="translate(184.5,398.5) rotate(75)"><path d="M-5.6,0Q0,-6.9 5.6,0Q0,6.9 -5.6,0Z" fill="#cbb23c" fill-opacity=".55" stroke="#ad8d2e" stroke-width="1.4"/><path d="M-3.9,0L3.9,0" stroke="#33421a" stroke-width="1.5" stroke-linecap="round" stroke-dasharray="0.1 2.4"/></g><g transform="translate(176.4,433.5) rotate(90)"><path d="M-7.9,0Q0,-7.8 7.9,0Q0,7.8 -7.9,0Z" fill="#cbb23c" fill-opacity=".55" stroke="#ad8d2e" stroke-width="1.4"/><path d="M-5.6,0L5.6,0" stroke="#33421a" stroke-width="1.5" stroke-linecap="round" stroke-dasharray="0.1 2.4"/></g><g transform="translate(116.8,494.5) rotate(35)"><path d="M-7.9,0Q0,-6.9 7.9,0Q0,6.9 -7.9,0Z" fill="#cbb23c" fill-opacity=".55" stroke="#ad8d2e" stroke-width="1.4"/><path d="M-5.6,0L5.6,0" stroke="#33421a" stroke-width="1.5" stroke-linecap="round" stroke-dasharray="0.1 2.4"/></g><g transform="translate(103.9,514.4) rotate(30)"><path d="M-7.9,0Q0,-6.9 7.9,0Q0,6.9 -7.9,0Z" fill="#cbb23c" fill-opacity=".55" stroke="#ad8d2e" stroke-width="1.4"/><path d="M-5.6,0L5.6,0" stroke="#33421a" stroke-width="1.5" stroke-linecap="round" stroke-dasharray="0.1 2.4"/></g><g transform="translate(121.5,522.5) rotate(75)"><path d="M-8.9,0Q0,-10.8 8.9,0Q0,10.8 -8.9,0Z" fill="#cbb23c" fill-opacity=".55" stroke="#ad8d2e" stroke-width="1.4"/><path d="M-6.2,0L6.2,0" stroke="#33421a" stroke-width="1.5" stroke-linecap="round" stroke-dasharray="0.1 2.4"/></g><g transform="translate(100.4,542.4) rotate(82)"><path d="M-9.3,0Q0,-5.9 9.3,0Q0,5.9 -9.3,0Z" fill="#cbb23c" fill-opacity=".55" stroke="#ad8d2e" stroke-width="1.4"/><path d="M-6.5,0L6.5,0" stroke="#33421a" stroke-width="1.5" stroke-linecap="round" stroke-dasharray="0.1 2.4"/></g><ellipse cx="101.6" cy="458.0" rx="1.5" ry="1.5" fill="#f4f0d8" /><path d="M121.5,272.2C120.7,273.6 117.3,277.3 116.3,280.4C115.2,283.5 114.8,287.4 115.1,290.9C115.4,294.4 116.4,298.1 118.0,301.4C119.7,304.7 123.1,307.2 125.0,310.7C127.0,314.2 128.8,318.7 129.7,322.4C130.6,326.1 130.7,329.6 130.3,332.9C129.9,336.2 128.6,339.5 127.4,342.3C126.1,345.0 123.7,346.3 122.7,349.3C121.7,352.2 120.5,355.4 121.5,360.0C122.5,364.6 128.5,370.2 128.5,377.0C128.5,383.8 124.6,392.3 121.5,401.0C118.4,409.7 113.1,418.9 110.0,429.0C106.9,439.1 105.0,452.3 103.0,461.5C101.0,470.7 97.7,476.8 98.0,484.0C98.3,491.2 105.0,497.2 105.0,505.0C105.0,512.8 98.6,523.2 98.0,531.0C97.4,538.8 101.0,548.5 101.6,552.0" fill="none" stroke="#33421a" stroke-width="1.7" stroke-linecap="round" stroke-dasharray="0.1 2.6"/><path d="M115.1,290.9C115.2,295.0 115.7,309.4 115.7,315.4C115.7,321.4 114.7,322.8 115.1,327.1C115.5,331.4 117.0,337.4 118.0,341.1C119.1,344.8 121.0,347.9 121.5,349.3" fill="none" stroke="#33421a" stroke-width="1.7" stroke-linecap="round" stroke-dasharray="0.1 2.6"/><path d="M193.4,261.1C192.9,263.1 191.2,268.8 190.4,273.4C189.7,277.9 189.1,283.1 188.7,288.5C188.3,294.0 187.9,300.8 188.1,306.1C188.3,311.3 190.1,315.8 189.9,320.1C189.7,324.4 188.0,327.3 186.9,331.8C185.9,336.2 184.0,342.1 183.4,346.9C182.8,351.8 184.0,351.2 183.4,361.0C182.8,370.8 181.3,391.1 180.0,405.5C178.7,419.9 176.4,440.5 175.7,447.5" fill="none" stroke="#33421a" stroke-width="1.7" stroke-linecap="round" stroke-dasharray="0.1 2.6"/><path d="M53.0,775.0C56.8,774.5 70.5,782.8 73.0,789.0C75.5,795.2 72.3,808.2 68.0,812.0C63.7,815.8 50.0,815.3 47.0,812.0C44.0,808.7 49.0,798.2 50.0,792.0C51.0,785.8 49.2,775.5 53.0,775.0Z" fill="#dcae90" /><ellipse cx="45.5" cy="822.5" rx="29.0" ry="16.0" fill="#d9bc8f" filter="url(#b1)"/><path d="M29.0,837.0L44.5,843.0L61.0,838.7L59.5,833.5L30.4,832.4Z" fill="#ead9a6" /><ellipse cx="45.5" cy="833.0" rx="16.0" ry="4.7" fill="#e8b99c" /><ellipse cx="53.3" cy="834.0" rx="4.2" ry="2.1" fill="#6a3fa0" /><ellipse cx="39.7" cy="833.5" rx="2.4" ry="1.9" fill="#6a3fa0" /><ellipse cx="32.7" cy="831.7" rx="1.9" ry="1.6" fill="#7a55a8" /><path d="M168.6,794.0L198.5,789.6L199.0,819.5L163.5,819.5Z" fill="#dcae90" /><ellipse cx="182.0" cy="831.7" rx="30.0" ry="15.0" fill="#d9bc8f" filter="url(#b1)"/><path d="M163.5,843.0L182.0,848.0L198.5,844.7L197.4,839.4L164.7,838.0Z" fill="#ead9a6" /><ellipse cx="181.0" cy="840.5" rx="18.0" ry="4.7" fill="#e8b99c" /><ellipse cx="167.0" cy="837.0" rx="2.8" ry="1.9" fill="#6a3fa0" /><ellipse cx="177.5" cy="841.0" rx="2.3" ry="1.9" fill="#6a3fa0" /><ellipse cx="186.0" cy="841.0" rx="2.1" ry="1.9" fill="#6a3fa0" /><ellipse cx="192.7" cy="841.0" rx="1.9" ry="1.9" fill="#6a3fa0" /><ellipse cx="197.4" cy="841.0" rx="1.6" ry="1.9" fill="#6a3fa0" /></g></g></svg>
<div class="r" style="left:0;top:3px;width:1714px;height:80px;background:#c0bb1b"></div><div class="r" style="left:307px;top:744px;width:1407px;height:109px;background:#c0bb1b"></div><div class="r" style="left:435px;top:84px;width:255px;height:659px;background:#fdfcf8"></div><div class="r" style="left:947px;top:84px;width:255px;height:659px;background:#fdfcf8"></div><div class="r" style="left:1459px;top:84px;width:255px;height:659px;background:#fdfcf8"></div><div class="r k" style="left:0;top:2px;width:1715px;height:1px"></div><div class="r k" style="left:0;top:83px;width:1715px;height:1px"></div><div class="r k" style="left:306px;top:163px;width:1409px;height:1px"></div><div class="r k" style="left:306px;top:308px;width:1409px;height:1px"></div><div class="r k" style="left:306px;top:453px;width:1409px;height:1px"></div><div class="r k" style="left:306px;top:598px;width:1409px;height:1px"></div><div class="r k" style="left:306px;top:743px;width:1409px;height:1px"></div><div class="r k" style="left:0;top:853px;width:1715px;height:1px"></div><div class="r k" style="left:306px;top:2px;width:1px;height:852px"></div><div class="r k" style="left:434px;top:2px;width:1px;height:742px"></div><div class="r k" style="left:562px;top:84px;width:1px;height:660px"></div><div class="r k" style="left:690px;top:2px;width:1px;height:742px"></div><div class="r k" style="left:818px;top:84px;width:1px;height:660px"></div><div class="r k" style="left:946px;top:2px;width:1px;height:742px"></div><div class="r k" style="left:1074px;top:84px;width:1px;height:660px"></div><div class="r k" style="left:1202px;top:2px;width:1px;height:742px"></div><div class="r k" style="left:1330px;top:84px;width:1px;height:660px"></div><div class="r k" style="left:1458px;top:2px;width:1px;height:742px"></div><div class="r k" style="left:1586px;top:84px;width:1px;height:660px"></div><div class="r k" style="left:1714px;top:2px;width:1px;height:852px"></div><div class="r" style="left:1068.0px;top:28px;width:6.3px;height:27.9px;background:#fff"></div><div class="r" style="left:1068.0px;top:50.4px;width:16.8px;height:5.5px;background:#fff"></div><div class="r" style="left:1336.9px;top:28px;width:6.3px;height:27.9px;background:#fff"></div><div class="r" style="left:1336.9px;top:50.4px;width:16.8px;height:5.5px;background:#fff"></div><div class="r" style="left:1606.1px;top:28px;width:6.3px;height:27.9px;background:#fff"></div><div class="r" style="left:1606.1px;top:50.4px;width:16.8px;height:5.5px;background:#fff"></div>
<svg width="1717" height="856" viewBox="0 0 1717 856"><g fill="#000" font-family="'Liberation Sans','Noto Sans CJK SC',sans-serif" font-weight="bold" font-size="22.8"><text x="346.9 372.3" y="261.8">衣长</text><text x="347.3 370.7" y="406.9">胸围</text><text x="347.1 372.3" y="551.9">袖长</text><text x="347.3 370.7" y="696.9">腰围</text></g></svg>
<span class="t" style="left:31.21px;top:27.78px;font-size:32.58px;font-weight:bold;color:#ffffff;-webkit-text-stroke:0.3px #ffffff;transform:scaleX(0.9622)">Picture</span><span class="t" style="left:155.33px;top:26.35px;font-size:33.02px;font-weight:bold;color:#ffffff;-webkit-text-stroke:0.3px #ffffff;transform:scaleX(0.9920)">BA3126</span><span class="t" style="left:336.93px;top:24.86px;font-size:36.33px;font-weight:bold;color:#ffffff;-webkit-text-stroke:0.3px #ffffff;transform:scaleX(0.9017)">Size</span><span class="t" style="left:552.91px;top:22.97px;font-size:39.58px;font-weight:bold;color:#ffffff;-webkit-text-stroke:0.35px #ffffff;transform:scaleX(0.8122)">S</span><span class="t" style="left:799.39px;top:22.98px;font-size:40.15px;font-weight:bold;color:#ffffff;-webkit-text-stroke:0.35px #ffffff;transform:scaleX(1.1511)">M</span><span class="t" style="left:1308.24px;top:21.56px;font-size:40.51px;font-weight:bold;color:#ffffff;-webkit-text-stroke:0.35px #ffffff;transform:scaleX(0.9536)">X</span><span class="t" style="left:1551.37px;top:21.56px;font-size:40.51px;font-weight:bold;color:#ffffff;-webkit-text-stroke:0.35px #ffffff;transform:scaleX(0.9546)">XX</span><span class="t" style="left:346.78px;top:112.21px;font-size:23.51px;font-weight:bold;color:#000000;-webkit-text-stroke:0.2px #000000;transform:scaleX(1.0659)">Unit</span><span class="t" style="left:462.13px;top:112.16px;font-size:23.85px;font-weight:bold;color:#000000;-webkit-text-stroke:0.2px #000000;transform:scaleX(0.9795)">Inches</span><span class="t" style="left:608.30px;top:112.07px;font-size:24.03px;font-weight:bold;color:#000000;-webkit-text-stroke:0.2px #000000;transform:scaleX(0.9724)">Cm</span><span class="t" style="left:718.04px;top:112.16px;font-size:23.85px;font-weight:bold;color:#000000;-webkit-text-stroke:0.2px #000000;transform:scaleX(0.9815)">Inches</span><span class="t" style="left:864.28px;top:112.07px;font-size:24.03px;font-weight:bold;color:#000000;-webkit-text-stroke:0.2px #000000;transform:scaleX(0.9663)">Cm</span><span class="t" style="left:974.13px;top:112.16px;font-size:23.85px;font-weight:bold;color:#000000;-webkit-text-stroke:0.2px #000000;transform:scaleX(0.9795)">Inches</span><span class="t" style="left:1120.30px;top:112.07px;font-size:24.03px;font-weight:bold;color:#000000;-webkit-text-stroke:0.2px #000000;transform:scaleX(0.9724)">Cm</span><span class="t" style="left:1230.04px;top:112.16px;font-size:23.85px;font-weight:bold;color:#000000;-webkit-text-stroke:0.2px #000000;transform:scaleX(0.9815)">Inches</span><span class="t" style="left:1376.28px;top:112.07px;font-size:24.03px;font-weight:bold;color:#000000;-webkit-text-stroke:0.2px #000000;transform:scaleX(0.9663)">Cm</span><span class="t" style="left:1486.13px;top:112.16px;font-size:23.85px;font-weight:bold;color:#000000;-webkit-text-stroke:0.2px #000000;transform:scaleX(0.9795)">Inches</span><span class="t" style="left:1632.30px;top:112.07px;font-size:24.03px;font-weight:bold;color:#000000;-webkit-text-stroke:0.2px #000000;transform:scaleX(0.9724)">Cm</span><span class="t" style="left:331.02px;top:206.91px;font-size:24.58px;font-weight:bold;color:#000000;-webkit-text-stroke:0.2px #000000;transform:scaleX(0.9857)">Length</span><span class="t" style="left:340.02px;top:351.15px;font-size:25.31px;font-weight:bold;color:#000000;-webkit-text-stroke:0.2px #000000;transform:scaleX(0.8928)">BUST</span><span class="t" style="left:334.01px;top:495.99px;font-size:25.16px;font-weight:bold;color:#000000;-webkit-text-stroke:0.2px #000000;transform:scaleX(0.9168)">Sleeve</span><span class="t" style="left:337.72px;top:641.53px;font-size:24.58px;font-weight:bold;color:#000000;-webkit-text-stroke:0.2px #000000;transform:scaleX(0.9909)">Waist</span><span class="t" style="left:337.21px;top:241.18px;font-size:22.95px;font-weight:bold;color:#000000;-webkit-text-stroke:0.55px #000000;transform:scaleX(0.8649)">(</span><span class="t" style="left:394.11px;top:241.18px;font-size:22.95px;font-weight:bold;color:#000000;-webkit-text-stroke:0.55px #000000;transform:scaleX(0.8780)">)</span><span class="t" style="left:338.61px;top:386.18px;font-size:22.95px;font-weight:bold;color:#000000;-webkit-text-stroke:0.55px #000000;transform:scaleX(0.8387)">(</span><span class="t" style="left:393.31px;top:386.18px;font-size:22.95px;font-weight:bold;color:#000000;-webkit-text-stroke:0.55px #000000;transform:scaleX(0.8518)">)</span><span class="t" style="left:337.21px;top:531.18px;font-size:22.95px;font-weight:bold;color:#000000;-webkit-text-stroke:0.55px #000000;transform:scaleX(0.8649)">(</span><span class="t" style="left:394.11px;top:531.18px;font-size:22.95px;font-weight:bold;color:#000000;-webkit-text-stroke:0.55px #000000;transform:scaleX(0.8780)">)</span><span class="t" style="left:338.61px;top:676.18px;font-size:22.95px;font-weight:bold;color:#000000;-webkit-text-stroke:0.55px #000000;transform:scaleX(0.8387)">(</span><span class="t" style="left:393.31px;top:676.18px;font-size:22.95px;font-weight:bold;color:#000000;-webkit-text-stroke:0.55px #000000;transform:scaleX(0.8518)">)</span><span class="t" style="left:473.37px;top:226.14px;font-size:21.79px;font-weight:normal;color:#303030;transform:scaleX(0.9958)">54.5</span><span class="t" style="left:600.27px;top:226.14px;font-size:21.79px;font-weight:normal;color:#303030;transform:scaleX(0.9784)">138.5</span><span class="t" style="left:729.28px;top:226.14px;font-size:21.79px;font-weight:normal;color:#303030;transform:scaleX(0.9980)">55.3</span><span class="t" style="left:856.20px;top:226.14px;font-size:21.79px;font-weight:normal;color:#303030;transform:scaleX(0.9803)">140.5</span><span class="t" style="left:985.37px;top:226.14px;font-size:21.79px;font-weight:normal;color:#303030;transform:scaleX(0.9940)">56.1</span><span class="t" style="left:1112.27px;top:226.14px;font-size:21.79px;font-weight:normal;color:#303030;transform:scaleX(0.9784)">142.5</span><span class="t" style="left:1241.28px;top:226.14px;font-size:21.79px;font-weight:normal;color:#303030;transform:scaleX(0.9944)">56.9</span><span class="t" style="left:1368.20px;top:226.14px;font-size:21.79px;font-weight:normal;color:#303030;transform:scaleX(0.9803)">144.5</span><span class="t" style="left:1497.37px;top:226.14px;font-size:21.79px;font-weight:normal;color:#303030;transform:scaleX(0.9976)">57.7</span><span class="t" style="left:1624.27px;top:226.14px;font-size:21.79px;font-weight:normal;color:#303030;transform:scaleX(0.9784)">146.5</span><span class="t" style="left:473.45px;top:371.14px;font-size:21.79px;font-weight:normal;color:#303030;transform:scaleX(0.9927)">38.6</span><span class="t" style="left:614.45px;top:371.14px;font-size:21.79px;font-weight:normal;color:#303030;transform:scaleX(1.0145)">98</span><span class="t" style="left:730.43px;top:371.14px;font-size:21.79px;font-weight:normal;color:#303030;transform:scaleX(0.9737)">40.2</span><span class="t" style="left:864.49px;top:371.14px;font-size:21.79px;font-weight:normal;color:#303030;transform:scaleX(0.9808)">102</span><span class="t" style="left:986.96px;top:371.14px;font-size:21.79px;font-weight:normal;color:#303030;transform:scaleX(0.9705)">42.5</span><span class="t" style="left:1120.58px;top:371.14px;font-size:21.79px;font-weight:normal;color:#303030;transform:scaleX(0.9730)">108</span><span class="t" style="left:1242.43px;top:371.14px;font-size:21.79px;font-weight:normal;color:#303030;transform:scaleX(0.9723)">44.9</span><span class="t" style="left:1377.14px;top:371.14px;font-size:21.79px;font-weight:normal;color:#303030;transform:scaleX(1.0132)">114</span><span class="t" style="left:1498.96px;top:371.14px;font-size:21.79px;font-weight:normal;color:#303030;transform:scaleX(0.9715)">47.2</span><span class="t" style="left:1632.60px;top:371.14px;font-size:21.79px;font-weight:normal;color:#303030;transform:scaleX(0.9725)">120</span><span class="t" style="left:473.26px;top:516.14px;font-size:21.79px;font-weight:normal;color:#303030;transform:scaleX(0.9971)">23.6</span><span class="t" style="left:614.44px;top:516.14px;font-size:21.79px;font-weight:normal;color:#303030;transform:scaleX(1.0135)">60</span><span class="t" style="left:730.02px;top:516.14px;font-size:21.79px;font-weight:normal;color:#303030;transform:scaleX(0.9923)">24.0</span><span class="t" style="left:870.34px;top:516.14px;font-size:21.79px;font-weight:normal;color:#303030;transform:scaleX(1.0244)">61</span><span class="t" style="left:985.26px;top:516.14px;font-size:21.79px;font-weight:normal;color:#303030;transform:scaleX(0.9924)">24.5</span><span class="t" style="left:1117.26px;top:516.14px;font-size:21.79px;font-weight:normal;color:#303030;transform:scaleX(0.9951)">62.2</span><span class="t" style="left:1242.02px;top:516.14px;font-size:21.79px;font-weight:normal;color:#303030;transform:scaleX(0.9923)">25.0</span><span class="t" style="left:1374.02px;top:516.14px;font-size:21.79px;font-weight:normal;color:#303030;transform:scaleX(0.9896)">63.4</span><span class="t" style="left:1497.26px;top:516.14px;font-size:21.79px;font-weight:normal;color:#303030;transform:scaleX(0.9867)">25.4</span><span class="t" style="left:1629.26px;top:516.14px;font-size:21.79px;font-weight:normal;color:#303030;transform:scaleX(0.9971)">64.6</span><span class="t" style="left:473.45px;top:661.14px;font-size:21.79px;font-weight:normal;color:#303030;transform:scaleX(0.9927)">38.6</span><span class="t" style="left:614.45px;top:661.14px;font-size:21.79px;font-weight:normal;color:#303030;transform:scaleX(1.0145)">98</span><span class="t" style="left:730.43px;top:661.14px;font-size:21.79px;font-weight:normal;color:#303030;transform:scaleX(0.9737)">40.2</span><span class="t" style="left:864.49px;top:661.14px;font-size:21.79px;font-weight:normal;color:#303030;transform:scaleX(0.9808)">102</span><span class="t" style="left:986.96px;top:661.14px;font-size:21.79px;font-weight:normal;color:#303030;transform:scaleX(0.9705)">42.5</span><span class="t" style="left:1120.58px;top:661.14px;font-size:21.79px;font-weight:normal;color:#303030;transform:scaleX(0.9730)">108</span><span class="t" style="left:1242.43px;top:661.14px;font-size:21.79px;font-weight:normal;color:#303030;transform:scaleX(0.9723)">44.9</span><span class="t" style="left:1377.14px;top:661.14px;font-size:21.79px;font-weight:normal;color:#303030;transform:scaleX(1.0132)">114</span><span class="t" style="left:1498.96px;top:661.14px;font-size:21.79px;font-weight:normal;color:#303030;transform:scaleX(0.9715)">47.2</span><span class="t" style="left:1632.60px;top:661.14px;font-size:21.79px;font-weight:normal;color:#303030;transform:scaleX(0.9725)">120</span><span class="t" style="left:312.24px;top:759.00px;font-size:24.29px;font-weight:normal;color:#ffffff;transform:scaleX(0.8898)">All</span><span class="t" style="left:345.47px;top:759.00px;font-size:24.29px;font-weight:normal;color:#ffffff;transform:scaleX(1.0259)">measurements</span><span class="t" style="left:516.41px;top:759.00px;font-size:24.29px;font-weight:normal;color:#ffffff;transform:scaleX(1.0335)">above</span><span class="t" style="left:592.02px;top:759.00px;font-size:24.29px;font-weight:normal;color:#ffffff;transform:scaleX(0.9955)">are</span><span class="t" style="left:633.52px;top:759.00px;font-size:24.29px;font-weight:normal;color:#ffffff;transform:scaleX(1.0518)">garment</span><span class="t" style="left:735.11px;top:759.00px;font-size:24.29px;font-weight:normal;color:#ffffff;transform:scaleX(0.9948)">measurements.Please</span><span class="t" style="left:983.02px;top:759.00px;font-size:24.29px;font-weight:normal;color:#ffffff;transform:scaleX(1.1020)">do</span><span class="t" style="left:1018.76px;top:759.00px;font-size:24.29px;font-weight:normal;color:#ffffff;transform:scaleX(1.1093)">not</span><span class="t" style="left:1063.54px;top:759.00px;font-size:24.29px;font-weight:normal;color:#ffffff;transform:scaleX(1.0422)">compare</span><span class="t" style="left:1170.65px;top:759.00px;font-size:24.29px;font-weight:normal;color:#ffffff;transform:scaleX(1.0412)">our</span><span class="t" style="left:1215.31px;top:759.00px;font-size:24.29px;font-weight:normal;color:#ffffff;transform:scaleX(0.9622)">size</span><span class="t" style="left:1264.02px;top:759.00px;font-size:24.29px;font-weight:normal;color:#ffffff;transform:scaleX(1.0421)">chart</span><span class="t" style="left:1328.87px;top:759.00px;font-size:24.29px;font-weight:normal;color:#ffffff;transform:scaleX(1.1267)">to</span><span class="t" style="left:1359.00px;top:759.00px;font-size:24.29px;font-weight:normal;color:#ffffff;transform:scaleX(1.0125)">your</span><span class="t" style="left:1414.73px;top:759.00px;font-size:24.29px;font-weight:normal;color:#ffffff;transform:scaleX(1.0791)">body</span><span class="t" style="left:1478.99px;top:759.00px;font-size:24.29px;font-weight:normal;color:#ffffff;transform:scaleX(1.0259)">measurements.</span><span class="t" style="left:312.00px;top:814.01px;font-size:24.15px;font-weight:normal;color:#ffffff;transform:scaleX(0.9122)">The</span><span class="t" style="left:357.28px;top:814.01px;font-size:24.15px;font-weight:normal;color:#ffffff;transform:scaleX(0.9762)">size</span><span class="t" style="left:405.80px;top:814.01px;font-size:24.15px;font-weight:normal;color:#ffffff;transform:scaleX(1.0201)">may</span><span class="t" style="left:459.04px;top:814.01px;font-size:24.15px;font-weight:normal;color:#ffffff;transform:scaleX(1.0031)">have</span><span class="t" style="left:518.78px;top:814.01px;font-size:24.15px;font-weight:normal;color:#ffffff;transform:scaleX(1.0468)">2-3cm</span><span class="t" style="left:596.02px;top:814.01px;font-size:24.15px;font-weight:normal;color:#ffffff;transform:scaleX(1.0542)">differs</span><span class="t" style="left:671.65px;top:814.01px;font-size:24.15px;font-weight:normal;color:#ffffff;transform:scaleX(1.0138)">due</span><span class="t" style="left:719.74px;top:814.01px;font-size:24.15px;font-weight:normal;color:#ffffff;transform:scaleX(1.1432)">to</span><span class="t" style="left:752.21px;top:814.01px;font-size:24.15px;font-weight:normal;color:#ffffff;transform:scaleX(1.0485)">manual</span><span class="t" style="left:841.27px;top:814.01px;font-size:24.15px;font-weight:normal;color:#ffffff;transform:scaleX(1.0351)">measurement.</span><span class="t" style="left:1007.44px;top:814.01px;font-size:24.15px;font-weight:normal;color:#ffffff;transform:scaleX(0.9327)">Please</span><span class="t" style="left:1083.64px;top:814.01px;font-size:24.15px;font-weight:normal;color:#ffffff;transform:scaleX(1.1293)">note</span><span class="t" style="left:1144.06px;top:814.01px;font-size:24.15px;font-weight:normal;color:#ffffff;transform:scaleX(1.0048)">when</span><span class="t" style="left:1209.74px;top:814.01px;font-size:24.15px;font-weight:normal;color:#ffffff;transform:scaleX(1.0426)">you</span><span class="t" style="left:1256.08px;top:814.01px;font-size:24.15px;font-weight:normal;color:#ffffff;transform:scaleX(1.0165)">measure.</span>
</body></html>
